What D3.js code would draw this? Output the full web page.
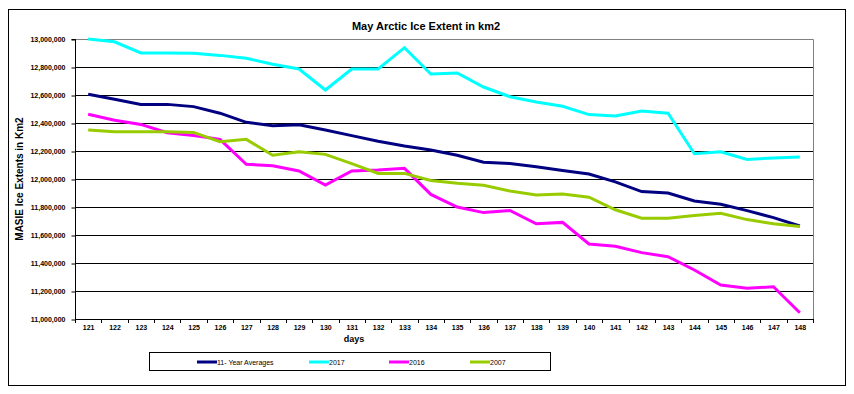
<!DOCTYPE html>
<html><head><meta charset="utf-8">
<script src="https://cdn.jsdelivr.net/npm/d3@7"></script>
<style>body{margin:0;background:#fff}svg{display:block;font-family:"Liberation Sans",Arial,sans-serif}</style>
</head><body><svg id="c" width="854" height="394"></svg>
<script>
const days = [121,122,123,124,125,126,127,128,129,130,131,132,133,134,135,136,137,138,139,140,141,142,143,144,145,146,147,148];
const avg11 = [12605000,12570000,12533000,12533000,12517000,12470000,12405000,12380000,12387000,12350000,12310000,12270000,12236000,12207000,12170000,12120000,12110000,12088000,12060000,12036000,11980000,11910000,11900000,11843000,11820000,11774000,11724000,11664000];
const y2017 = [13000000,12980000,12900000,12900000,12898000,12883000,12862000,12820000,12786000,12636000,12786000,12786000,12938000,12750000,12757000,12657000,12588000,12550000,12520000,12460000,12450000,12486000,12470000,12180000,12195000,12140000,12150000,12157000];
const y2016 = [12462000,12420000,12390000,12330000,12310000,12283000,12105000,12095000,12057000,11957000,12057000,12064000,12076000,11890000,11800000,11760000,11775000,11680000,11690000,11536000,11520000,11474000,11445000,11350000,11243000,11220000,11230000,11045000];
const y2007 = [12350000,12338000,12338000,12338000,12333000,12267000,12283000,12170000,12195000,12176000,12110000,12040000,12040000,11990000,11970000,11955000,11914000,11886000,11892000,11870000,11780000,11720000,11720000,11740000,11755000,11710000,11680000,11660000];
const yTicks = [11000000,11200000,11400000,11600000,11800000,12000000,12200000,12400000,12600000,12800000,13000000];
const seriesNames = ["11- Year Averages","2017","2016","2007"];
const seriesColors = ["#000080","#00FFFF","#FF00FF","#99CC00"];
const seriesData = [avg11,y2017,y2016,y2007];

const svg = d3.select("#c");
const L=75,R=813,T=39,B=319;
const x = d3.scaleBand().domain(days).range([L,R]);
const y = d3.scaleLinear().domain([11000000,13000000]).range([B,T]);

// outer frame
svg.append("rect").attr("x",8.5).attr("y",9.5).attr("width",837).attr("height",376).attr("fill","none").attr("stroke","#000").attr("stroke-width",1);

// gridlines
svg.append("g").selectAll("line").data(yTicks.slice(1,-1)).join("line")
  .attr("x1",L).attr("x2",R).attr("y1",d=>Math.round(y(d))+0.5).attr("y2",d=>Math.round(y(d))+0.5)
  .attr("stroke","#000").attr("stroke-width",1);
// plot border top/right grey
svg.append("path").attr("d",`M${L},${T+0.5}H${R+0.5}V${B}`).attr("fill","none").attr("stroke","#808080");

// y axis
const yAx = svg.append("g").attr("transform",`translate(${L+0.5},0.5)`)
  .call(d3.axisLeft(y).tickValues(yTicks).tickSize(4).tickPadding(6).tickFormat(d3.format(",")));
yAx.select(".domain").attr("stroke","#000").attr("d",`M-4,${T}H0V${B}`);
yAx.selectAll("text").attr("font-size","7px").attr("font-weight","bold").attr("fill","#000").attr("font-family","'Liberation Sans',Arial,sans-serif");

// x axis
const xAx = svg.append("g").attr("transform",`translate(0.5,${B+0.5})`)
  .call(d3.axisBottom(x).tickSize(0).tickPadding(6));
xAx.select(".domain").attr("stroke","#000").attr("d",`M${L},0H${R}`);
xAx.selectAll("text").attr("font-size","7px").attr("font-weight","bold").attr("fill","#000").attr("font-family","'Liberation Sans',Arial,sans-serif");
svg.append("g").selectAll("line").data(days.concat([null])).join("line")
  .attr("x1",(d,i)=>Math.round(L+i*x.bandwidth())+0.5).attr("x2",(d,i)=>Math.round(L+i*x.bandwidth())+0.5)
  .attr("y1",B).attr("y2",B+4).attr("stroke","#000");

// lines
const line = d3.line().x((d,i)=>x(days[i])+x.bandwidth()/2).y(d=>y(d));
seriesData.forEach((s,k)=>{
  svg.append("path").datum(s).attr("d",line).attr("fill","none")
    .attr("stroke",seriesColors[k]).attr("stroke-width",3).attr("stroke-linejoin","miter");
});

// titles
svg.append("text").attr("x",426).attr("y",30).attr("text-anchor","middle").attr("font-size","11px").attr("font-weight","bold").text("May Arctic Ice Extent in km2");
svg.append("text").attr("x",354).attr("y",342).attr("text-anchor","middle").attr("font-size","9px").attr("font-weight","bold").text("days");
svg.append("text").attr("transform","translate(23,179) rotate(-90)").attr("text-anchor","middle").attr("font-size","10px").attr("font-weight","bold").text("MASIE Ice Extents in Km2");

// legend
svg.append("rect").attr("x",149.5).attr("y",352.5).attr("width",401).attr("height",18).attr("fill","none").attr("stroke","#000");
const lx=[197,309,389,470];
seriesNames.forEach((n,k)=>{
  svg.append("line").attr("x1",lx[k]).attr("x2",lx[k]+20).attr("y1",362).attr("y2",362).attr("stroke",seriesColors[k]).attr("stroke-width",3);
  svg.append("text").attr("x",lx[k]+20).attr("y",364.5).attr("font-size","7px").text(n);
});
</script></body></html>
